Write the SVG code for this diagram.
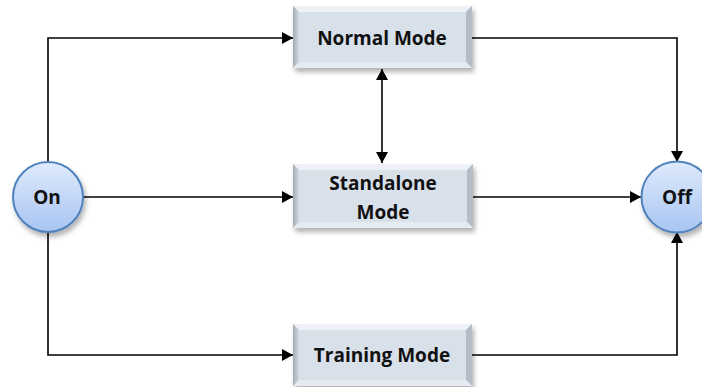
<svg xmlns="http://www.w3.org/2000/svg" width="702" height="387" viewBox="0 0 702 387">
<style>
.face{fill:#d8e0ea}
.bt{fill:#eef2f6}
.bl{fill:url(#gl)}
.br{fill:#b4bcc6}
.bb{fill:#e6ebf1}
.lbl{font-family:"Open Sans","Liberation Sans",sans-serif;font-weight:bold;font-size:19px;fill:#111;text-anchor:middle}
.st{fill:url(#gc);stroke:#4f81bd;stroke-width:2}
.ln{fill:none;stroke:#000;stroke-width:1.6}
</style>
<defs>
<linearGradient id="gl" x1="0" y1="0" x2="1" y2="0">
<stop offset="0" stop-color="#a4abb4"/><stop offset="1" stop-color="#d0d8e2"/>
</linearGradient>
<linearGradient id="gc" x1="0" y1="0" x2="0" y2="1">
<stop offset="0" stop-color="#dfeafc"/><stop offset="1" stop-color="#a8c5f2"/>
</linearGradient>
<filter id="sh" x="-20%" y="-20%" width="140%" height="150%">
<feDropShadow dx="2" dy="4" stdDeviation="2.5" flood-color="#000" flood-opacity="0.3"/>
</filter>
<marker id="ar" viewBox="0 0 11 12" refX="11" refY="6" markerWidth="11" markerHeight="12" markerUnits="userSpaceOnUse" orient="auto-start-reverse">
<path d="M0,0 L11,6 L0,12 z" fill="#000"/>
</marker>
</defs>

<g id="connectors">
<path class="ln" d="M48,162 V38 H293" marker-end="url(#ar)"/>
<path class="ln" d="M83,197 H293" marker-end="url(#ar)"/>
<path class="ln" d="M48,232 V355 H293" marker-end="url(#ar)"/>
<path class="ln" d="M472,38 H677 V162" marker-end="url(#ar)"/>
<path class="ln" d="M473,197 H641" marker-end="url(#ar)"/>
<path class="ln" d="M472,355 H677 V232" marker-end="url(#ar)"/>
<path class="ln" d="M382,69 V163" marker-start="url(#ar)" marker-end="url(#ar)"/>
</g>

<g id="on">
<circle class="st" cx="48" cy="197" r="35" filter="url(#sh)"/>
<text class="lbl" x="47" y="204">On</text>
</g>

<g id="off">
<circle class="st" cx="677" cy="197" r="35.5" filter="url(#sh)"/>
<text class="lbl" x="677" y="204">Off</text>
</g>

<g id="normal">
<g filter="url(#sh)">
<rect class="face" x="293" y="6" width="179" height="62"/>
</g>
<polygon class="bt" points="293,6 472,6 466,12 299,12"/>
<polygon class="bl" points="293,6 299,12 299,62 293,68"/>
<polygon class="br" points="472,6 472,68 466,62 466,12"/>
<polygon class="bb" points="293,68 472,68 466,62 299,62"/>
<text class="lbl" x="382" y="45">Normal Mode</text>
</g>

<g id="standalone">
<g filter="url(#sh)">
<rect class="face" x="293" y="164" width="180" height="64"/>
</g>
<polygon class="bt" points="293,164 473,164 467,170 299,170"/>
<polygon class="bl" points="293,164 299,170 299,222 293,228"/>
<polygon class="br" points="473,164 473,228 467,222 467,170"/>
<polygon class="bb" points="293,228 473,228 467,222 299,222"/>
<text class="lbl" x="383" y="190">Standalone</text>
<text class="lbl" x="383" y="219">Mode</text>
</g>

<g id="training">
<g filter="url(#sh)">
<rect class="face" x="293" y="324" width="179" height="62"/>
</g>
<polygon class="bt" points="293,324 472,324 466,330 299,330"/>
<polygon class="bl" points="293,324 299,330 299,380 293,386"/>
<polygon class="br" points="472,324 472,386 466,380 466,330"/>
<polygon class="bb" points="293,386 472,386 466,380 299,380"/>
<text class="lbl" x="382" y="362">Training Mode</text>
</g>
</svg>
